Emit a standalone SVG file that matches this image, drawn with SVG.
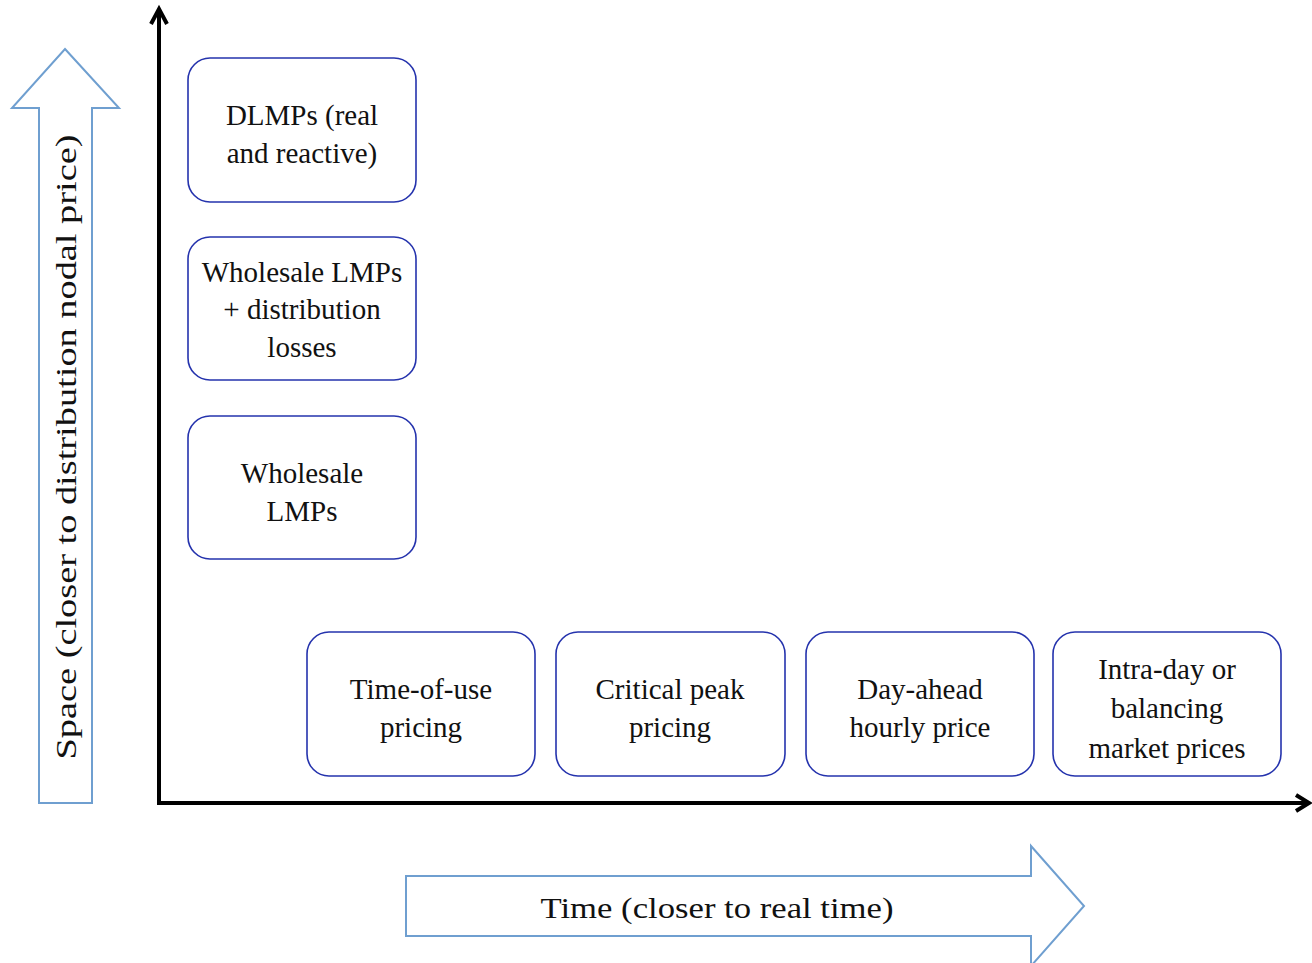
<svg xmlns="http://www.w3.org/2000/svg" width="1312" height="963" viewBox="0 0 1312 963">
<style>
.box{fill:#fff;stroke:#2533ad;stroke-width:1.6}
.big{fill:#fff;stroke:#6f9fd0;stroke-width:2}
.axis{fill:none;stroke:#000;stroke-width:4}
text{font-family:'Liberation Serif','Times New Roman',serif;font-size:29px;fill:#111;text-anchor:middle}
</style>
<rect width="1312" height="963" fill="#fff"/>
<g id="space-arrow">
<polygon class="big" points="65,49 119,108 92,108 92,803 39,803 39,108 12,108"/>
<text transform="translate(76,447) rotate(-90)" font-size="33" textLength="625" lengthAdjust="spacingAndGlyphs">Space (closer to distribution nodal price)</text>
</g>
<g id="time-arrow">
<polygon class="big" points="406,876 1031,876 1031,846 1084,906 1031,966 1031,936 406,936"/>
<text x="717" y="918" font-size="33" textLength="353" lengthAdjust="spacingAndGlyphs">Time (closer to real time)</text>
</g>
<g id="axes">
<line class="axis" x1="159" y1="9" x2="159" y2="804"/>
<polyline class="axis" points="151,24 159,9 167,24"/>
<line class="axis" x1="157" y1="803" x2="1309" y2="803"/>
<polyline class="axis" points="1296,795 1309,803 1296,811"/>
</g>
<g id="dlmps"><rect class="box" x="188" y="58" width="228" height="144" rx="22"/><text x="302" y="125">DLMPs (real</text><text x="302" y="163">and reactive)</text></g>
<g id="wholesale-dist"><rect class="box" x="188" y="237" width="228" height="143" rx="22"/><text x="302" y="282">Wholesale LMPs</text><text x="302" y="319">+ distribution</text><text x="302" y="357">losses</text></g>
<g id="wholesale"><rect class="box" x="188" y="416" width="228" height="143" rx="22"/><text x="302" y="483">Wholesale</text><text x="302" y="521">LMPs</text></g>
<g id="tou"><rect class="box" x="307" y="632" width="228" height="144" rx="22"/><text x="421" y="699">Time-of-use</text><text x="421" y="737">pricing</text></g>
<g id="cpp"><rect class="box" x="556" y="632" width="229" height="144" rx="22"/><text x="670" y="699">Critical peak</text><text x="670" y="737">pricing</text></g>
<g id="dayahead"><rect class="box" x="806" y="632" width="228" height="144" rx="22"/><text x="920" y="699">Day-ahead</text><text x="920" y="737">hourly price</text></g>
<g id="intraday"><rect class="box" x="1053" y="632" width="228" height="144" rx="22"/><text x="1167" y="679">Intra-day or</text><text x="1167" y="718">balancing</text><text x="1167" y="758">market prices</text></g>
</svg>
